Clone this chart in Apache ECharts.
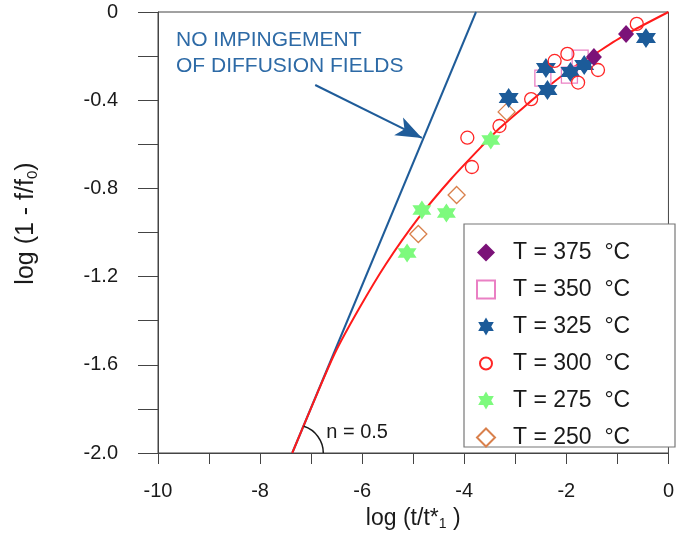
<!DOCTYPE html>
<html>
<head>
<meta charset="utf-8">
<script src="https://cdn.jsdelivr.net/npm/echarts@6/dist/echarts.min.js"></script>
<style>
html,body{margin:0;padding:0;background:#fff;}
#c{width:677px;height:537px;}
</style>
</head>
<body>
<div id="c"></div>
<script>
// ---- data ----
const xTickLabels = ['-10', '-8', '-6', '-4', '-2', '0'];
const yTickLabels = ['-2.0', '-1.6', '-1.2', '-0.8', '-0.4', '0'];
const legendNames = ['T = 375  °C', 'T = 350  °C', 'T = 325  °C', 'T = 300  °C', 'T = 275  °C', 'T = 250  °C'];

const T375 = [[-0.83, -0.10], [-1.46, -0.204]];
const T350 = [[-2.46, -0.30], [-1.94, -0.286], [-1.73, -0.209]];
const T325 = [[-3.13, -0.39], [-2.40, -0.254], [-2.37, -0.354], [-1.92, -0.272], [-1.65, -0.240], [-0.44, -0.118]];
const T300 = [[-3.94, -0.57], [-3.85, -0.703], [-3.31, -0.517], [-2.69, -0.395], [-2.23, -0.222], [-1.98, -0.19], [-1.77, -0.32], [-1.38, -0.263], [-0.62, -0.054]];
const T275 = [[-3.48, -0.58], [-4.83, -0.898], [-4.35, -0.912], [-5.12, -1.093]];
const T250 = [[-4.15, -0.83], [-4.90, -1.007], [-3.17, -0.453]];

const fitCurve = [[-7.37, -2.0], [-7.0, -1.795], [-6.54, -1.55], [-6.06, -1.345], [-5.54, -1.145], [-4.9, -0.935], [-4.25, -0.755], [-3.62, -0.6], [-3.3, -0.525], [-2.75, -0.415], [-2.33, -0.333], [-1.885, -0.255], [-1.5, -0.199], [-0.85, -0.104], [0, 0]];
const noImpingementLine = [[-7.37, -2.0], [-3.77, 0]];
const arrowStart = [-6.92, -0.331];
const arrowEnd = [-4.83, -0.571];
const nLabelPos = [-6.1, -1.909];
const arcCenter = [-7.31, -2.0];

// ---- styles ----
const FONT = '"Liberation Sans", Arial, sans-serif';
function starPath() {
  let d = '';
  for (let i = 0; i < 12; i++) {
    const a = (-90 + 30 * i) * Math.PI / 180;
    const r = i % 2 === 0 ? 10 : 5.77;
    d += (i === 0 ? 'M' : 'L') + (r * Math.cos(a)).toFixed(3) + ',' + (r * Math.sin(a)).toFixed(3);
  }
  return 'path://' + d + 'Z';
}
const STAR = starPath();
// small circle inside an 18x18 invisible frame (legend icon)
const SMALL_CIRCLE = 'path://M-9,-9M9,9M6,0A6,6,0,1,1,-6,0A6,6,0,1,1,6,0Z';

const chart = echarts.init(document.getElementById('c'), null, {renderer: 'canvas'});

const option = {
  backgroundColor: '#fff',
  animation: false,
  grid: {left: 158, top: 12, width: 520, height: 441, show: true, borderColor: '#444', borderWidth: 1},
  xAxis: {
    type: 'value', min: -10, max: 0, interval: 2,
    name: '{a|log (t/t*}{s|1}{a| )}',
    nameLocation: 'middle', nameGap: 53,
    nameTextStyle: {rich: {
      a: {fontSize: 23, fontFamily: FONT, color: '#1a1a1a'},
      s: {fontSize: 14, fontFamily: FONT, color: '#1a1a1a', padding: [11, 0, 0, 0]}
    }},
    axisLine: {onZero: false, lineStyle: {color: '#444', width: 1}},
    axisTick: {length: 11, lineStyle: {color: '#444'}},
    minorTick: {show: true, splitNumber: 2, length: 11, lineStyle: {color: '#444'}},
    splitLine: {show: false},
    axisLabel: {fontSize: 20, fontFamily: FONT, color: '#1a1a1a', margin: 28,
      formatter: function (v) { return xTickLabels[Math.round((v + 10) / 2)]; }}
  },
  yAxis: {
    type: 'value', min: -2, max: 0, interval: 0.4,
    name: '{p|log (1 - f/f}{s|0}{a|)}',
    nameLocation: 'middle', nameGap: 118, nameRotate: 90,
    nameTextStyle: {rich: {
      p: {fontSize: 25, fontFamily: FONT, color: '#1a1a1a', padding: [0, 0, 0, 18]},
      a: {fontSize: 25, fontFamily: FONT, color: '#1a1a1a'},
      s: {fontSize: 15, fontFamily: FONT, color: '#1a1a1a', padding: [12, 0, 0, 0]}
    }},
    axisLine: {onZero: false, lineStyle: {color: '#444', width: 1}},
    axisTick: {length: 20, lineStyle: {color: '#444'}},
    minorTick: {show: true, splitNumber: 2, length: 20, lineStyle: {color: '#444'}},
    splitLine: {show: false},
    axisLabel: {fontSize: 20, fontFamily: FONT, color: '#1a1a1a', margin: 40,
      formatter: function (v) { return yTickLabels[Math.round((v + 2) / 0.4)]; }}
  },
  legend: {
    orient: 'vertical', left: 476, top: 241, padding: 0,
    itemWidth: 18, itemHeight: 18, itemGap: 14,
    data: [
      {name: legendNames[0]},
      {name: legendNames[1]},
      {name: legendNames[2]},
      {name: legendNames[3], icon: SMALL_CIRCLE},
      {name: legendNames[4]},
      {name: legendNames[5]}
    ],
    textStyle: {fontSize: 23, fontFamily: FONT, color: '#1a1a1a', padding: [0, 0, 0, 13]},
    z: 10
  },
  series: [
    {type: 'line', data: noImpingementLine, showSymbol: false, symbol: 'none',
      lineStyle: {color: '#1f5c99', width: 2}, z: 2, silent: true,
      markLine: {silent: true, symbol: ['none', 'arrow'], symbolSize: [15, 26],
        lineStyle: {color: '#1f5c99', width: 2, type: 'solid'}, label: {show: false},
        data: [[{coord: arrowStart}, {coord: arrowEnd}]]},
      markPoint: {silent: true, symbol: 'circle', symbolSize: 0,
        label: {show: true, position: 'inside', formatter: 'n = 0.5', fontSize: 20, fontFamily: FONT, color: '#1a1a1a'},
        data: [{coord: nLabelPos}]}
    },
    {type: 'line', data: fitCurve, showSymbol: false, symbol: 'none', smooth: 0.25,
      lineStyle: {color: '#ff1a1a', width: 2}, z: 2, silent: true},
    {name: legendNames[1], type: 'scatter', data: T350, symbol: 'rect', symbolSize: 16, z: 3,
      itemStyle: {color: 'rgba(255,255,255,0)', borderColor: '#ea80c4', borderWidth: 1.3, opacity: 1}},
    {name: legendNames[5], type: 'scatter', data: T250, symbol: 'diamond', symbolSize: 17, z: 3,
      itemStyle: {color: 'rgba(255,255,255,0)', borderColor: '#d9804c', borderWidth: 1.3, opacity: 1}},
    {name: legendNames[4], type: 'scatter', data: T275, symbol: STAR, symbolSize: 19, z: 3,
      itemStyle: {color: '#7dfa7d', opacity: 1}},
    {name: legendNames[2], type: 'scatter', data: T325, symbol: STAR, symbolSize: 20, z: 4,
      itemStyle: {color: '#1c5b99', opacity: 1}},
    {name: legendNames[3], type: 'scatter', data: T300, symbol: 'circle', symbolSize: 13, z: 5,
      itemStyle: {color: 'rgba(255,255,255,0)', borderColor: '#ff2626', borderWidth: 1.3, opacity: 1}},
    {name: legendNames[0], type: 'scatter', data: T375, symbol: 'diamond', symbolSize: [16, 18], z: 6,
      itemStyle: {color: '#7b1278', opacity: 1}}
  ]
};
chart.setOption(option);

const c = chart.convertToPixel({gridIndex: 0}, arcCenter);
chart.setOption({
  graphic: [
    {type: 'rect', shape: {x: 464, y: 224, width: 211, height: 223}, z: 1,
      style: {fill: '#fff', stroke: '#777', lineWidth: 1.2}},
    {type: 'text', left: 176, top: 27, z: 5,
      style: {text: 'NO IMPINGEMENT\nOF DIFFUSION FIELDS', fill: '#2d6aa6', font: '21px ' + FONT, lineHeight: 26}},
    {type: 'arc', z: 5, shape: {cx: c[0], cy: c[1], r: 28, startAngle: -1.265, endAngle: 0, clockwise: true},
      style: {stroke: '#1a1a1a', lineWidth: 1.5, fill: null}}
  ]
});
</script>
</body>
</html>
